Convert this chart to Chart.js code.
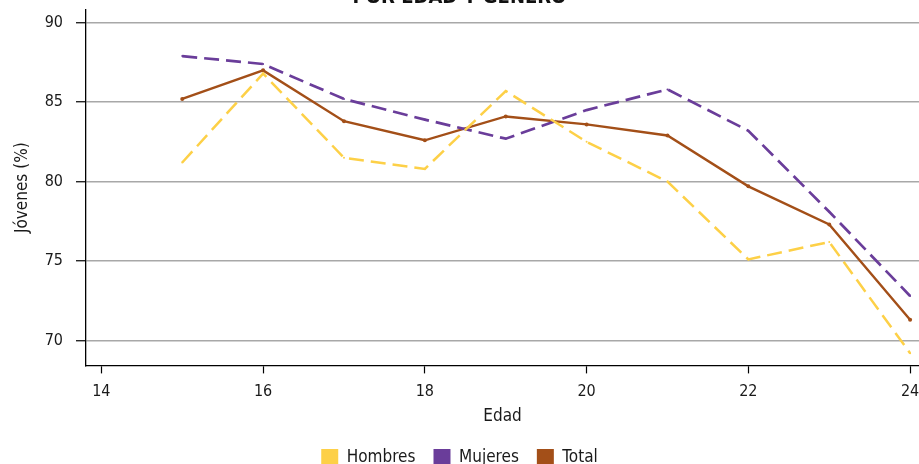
<!DOCTYPE html>
<html>
<head>
<meta charset="utf-8">
<script src="https://cdn.jsdelivr.net/npm/chart.js@4"></script>
<style>
  html, body { margin: 0; padding: 0; background: #fff; overflow: hidden; }
  #wrap { position: absolute; left: 0; top: -20px; width: 919px; height: 496px; }
</style>
</head>
<body>
<div id="wrap"><canvas id="c"></canvas></div>
<script>
// Jóvenes (%) por edad y género
const edades = [15, 16, 17, 18, 19, 20, 21, 22, 23, 24];
const hombres = [81.2, 86.8, 81.5, 80.8, 85.7, 82.5, 80.0, 75.1, 76.2, 69.2];
const mujeres = [87.9, 87.4, 85.2, 83.9, 82.7, 84.5, 85.8, 83.2, 78.1, 72.8];
const total = [85.2, 87.0, 83.8, 82.6, 84.1, 83.6, 82.9, 79.7, 77.3, 71.3];
const xTicks = [14, 16, 18, 20, 22, 24];
const yTicks = [70, 75, 80, 85, 90];

const FONT = "'Liberation Sans Narrow', 'DejaVu Sans Condensed', sans-serif";

function serie(label, vals, color, dash, w, r) {
  return {
    label: label,
    data: edades.map((e, i) => ({ x: e, y: vals[i] })),
    borderColor: color,
    backgroundColor: color,
    pointBackgroundColor: color,
    pointBorderColor: color,
    borderWidth: w,
    borderDash: dash,
    pointRadius: r,
    pointBorderWidth: 0,
    tension: 0
  };
}

new Chart(document.getElementById('c'), {
  type: 'line',
  data: {
    datasets: [
      serie('Hombres', hombres, '#fdd047', [15, 7], 2.5, 1),
      serie('Mujeres', mujeres, '#6a3d9a', [15, 7], 2.7, 1),
      serie('Total', total, '#a34f18', [], 2.4, 2)
    ]
  },
  options: {
    responsive: true,
    maintainAspectRatio: false,
    animation: false,
    layout: { padding: 0, autoPadding: false },
    plugins: {
      title: {
        display: true,
        text: 'POR EDAD Y GÉNERO',
        color: '#111',
        font: { family: FONT, size: 20, weight: 'bold' },
        padding: { top: 6, bottom: 0 }
      },
      legend: {
        position: 'bottom',
        labels: {
          color: '#1a1a1a',
          font: { family: FONT, size: 17 },
          boxWidth: 17,
          boxHeight: 17,
          padding: 18,
          generateLabels: function(chart) {
            const items = Chart.defaults.plugins.legend.labels.generateLabels(chart);
            items.forEach(it => { it.lineDash = []; it.lineWidth = 0; it.fillStyle = it.strokeStyle; });
            return items;
          }
        }
      },
      tooltip: { enabled: false }
    },
    scales: {
      x: {
        type: 'linear',
        min: 13.81,
        max: 24.11,
        afterBuildTicks: s => { s.ticks = xTicks.map(v => ({ value: v })); },
        afterFit: s => {
          s.height = s.height - 11;
          s.paddingLeft = 0;
          s.paddingRight = 0;
        },
        grid: { drawOnChartArea: false, tickLength: 8, tickColor: '#000', tickWidth: 1.2 },
        border: { color: '#000', width: 1.3 },
        ticks: { color: '#1a1a1a', font: { family: FONT, size: 16 }, padding: 9, maxRotation: 0 },
        title: { display: true, text: 'Edad', color: '#1a1a1a', font: { family: FONT, size: 17 }, padding: { top: 7, bottom: 4 } }
      },
      y: {
        min: 68.43,
        max: 90.8,
        afterBuildTicks: s => { s.ticks = yTicks.map(v => ({ value: v })); },
        afterFit: s => { s.width = 86; },
        grid: { color: '#a8a8a8', lineWidth: 1.5, tickLength: 10, tickColor: '#000', tickWidth: 1.2 },
        border: { color: '#000', width: 1.3 },
        ticks: { color: '#1a1a1a', font: { family: FONT, size: 16 }, padding: 13 },
        title: { display: true, text: 'Jóvenes (%)', color: '#1a1a1a', font: { family: FONT, size: 17 }, padding: { top: 12, bottom: 0 } }
      }
    }
  }
});
</script>
</body>
</html>
